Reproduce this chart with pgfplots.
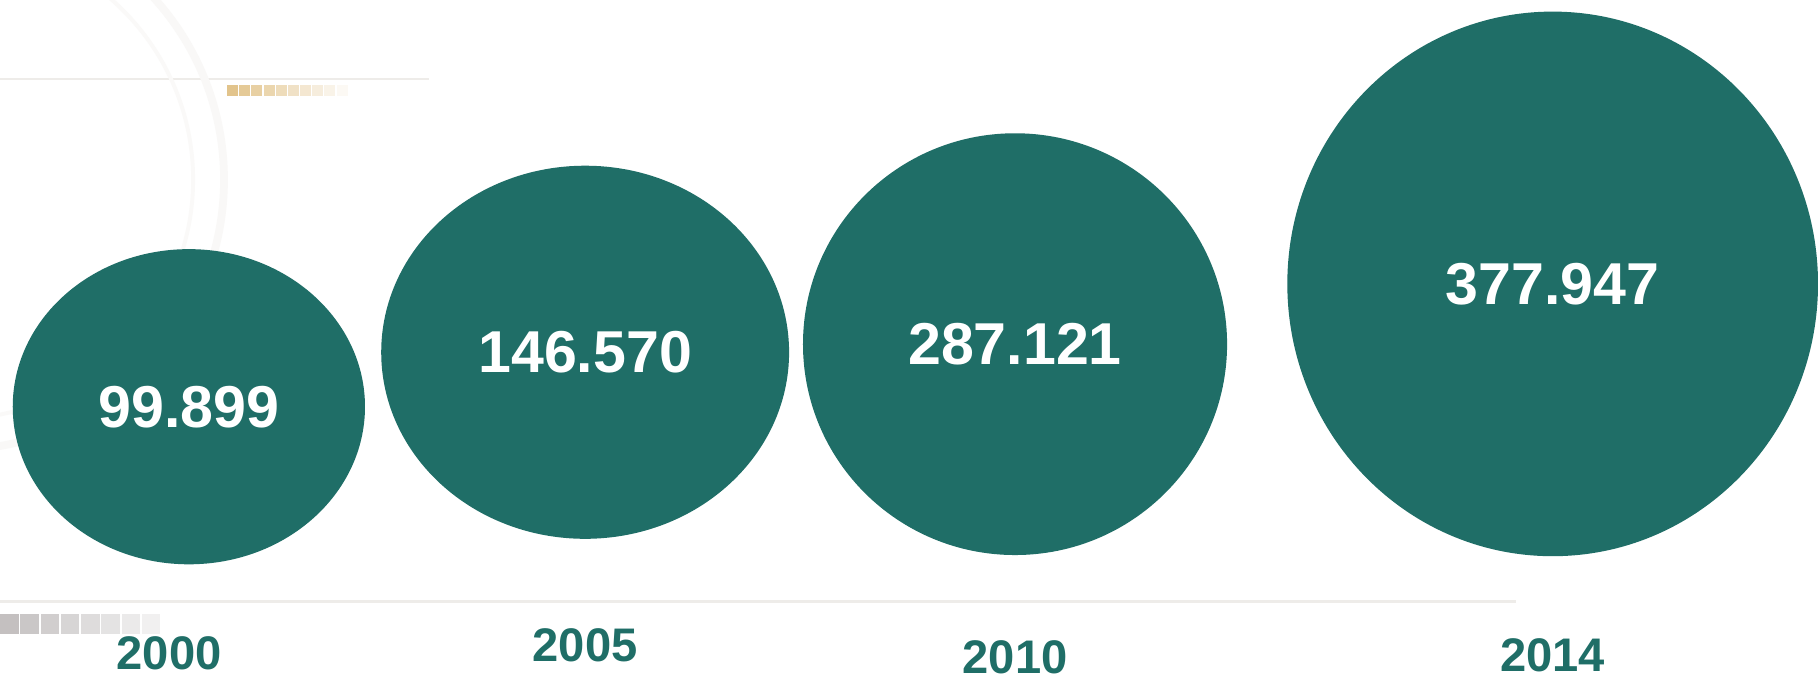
\documentclass[border=0pt]{standalone}
\usepackage{pgfplots}
\pgfplotsset{compat=1.18}
\usepackage{pgfplotstable}
\usepackage{fontspec}
\setmainfont{Liberation Sans}

\definecolor{tealc}{RGB}{31,110,103}
\definecolor{faint}{RGB}{238,236,233}
\definecolor{goldsq}{RGB}{226,196,140}
\definecolor{graysq}{RGB}{196,192,192}

% bubbles: centre, half axes (units of the axis), value
\pgfplotstableread{
x y rx ry val
163 234 152 136 99.899
505 281 176 161 146.570
876 288 183 182 287.121
1340 340 229 235 377.947
}\blobs

\pgfplotstableread{
x y year
146 21 2000
505 28.5 2005
876 18 2010
1340 19.5 2014
}\years

\pgfdeclareplotmark{blob}{%
  \pgfpathellipse{\pgfpointorigin}{\pgfqpoint{\rx pt}{0pt}}{\pgfqpoint{0pt}{\ry pt}}%
  \pgfusepathqfill}

\begin{document}
\begin{tikzpicture}
\begin{axis}[
    x=0.3pt, y=0.3pt,
    xmin=0, xmax=1568, ymin=0, ymax=585,
    hide axis,
    clip=true,
  ]
  \fill[white] (rel axis cs:0,0) rectangle (rel axis cs:1,1);
  % faint background decoration
  \draw[faint, line width=0.6pt] (axis cs:0,517) -- (axis cs:370,517);
  \draw[faint, line width=0.6pt] (axis cs:0,66) -- (axis cs:1308,66);
  \draw[faint!35, line width=2pt] (axis cs:-40,430) circle[radius=70pt];
  \draw[faint!30, line width=1pt] (axis cs:-40,430) circle[radius=62pt];
  \pgfplotsinvokeforeach{0,...,9}{
    \fill[goldsq!\fpeval{100-10*#1}!white] (axis cs:{196+10.5*#1},502) rectangle (axis cs:{205.5+10.5*#1},512);
  }
  \pgfplotsinvokeforeach{0,...,7}{
    \fill[graysq!\fpeval{100-11*#1}!white] (axis cs:{17.5*#1},38) rectangle (axis cs:{16+17.5*#1},55);
  }

  \addplot[
    scatter, only marks, mark=blob,
    point meta=\thisrow{rx},
    scatter/use mapped color={draw=none, fill=tealc},
    visualization depends on={0.3*\thisrow{rx} \as \rx},
    visualization depends on={0.3*\thisrow{ry} \as \ry},
  ] table[x=x, y=y] {\blobs};

  \addplot[
    draw=none, mark=none,
    nodes near coords, nodes near coords align=center,
    point meta=explicit symbolic,
    every node near coord/.style={anchor=center, inner sep=0pt, text=white,
      font=\bfseries\fontsize{15.3}{15.3}\selectfont},
  ] table[x=x, y=y, meta=val] {\blobs};

  \addplot[
    draw=none, mark=none,
    nodes near coords, nodes near coords align=center,
    point meta=explicit symbolic,
    every node near coord/.style={anchor=center, inner sep=0pt, text=tealc,
      font=\bfseries\fontsize{12.2}{12.2}\selectfont},
  ] table[x=x, y=y, meta=year] {\years};
\end{axis}
\end{tikzpicture}
\end{document}
